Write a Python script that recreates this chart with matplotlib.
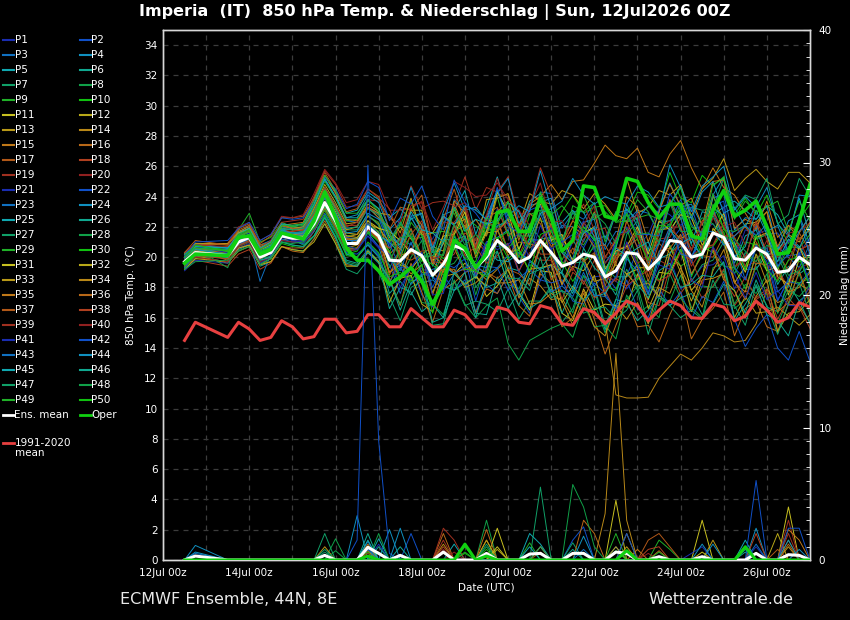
import matplotlib
matplotlib.use('Agg')
import matplotlib.pyplot as plt
from matplotlib.lines import Line2D
from matplotlib.ticker import MultipleLocator

plt.rcParams['font.family'] = ['DejaVu Sans']

# forecast steps in days after 12Jul2026 00Z
steps = [0.5, 0.75] + [1.5 + 0.25 * i for i in range(55)]

tick_days = list(range(0, 15))
tick_labels = ['12Jul 00z', '', '14Jul 00z', '', '16Jul 00z', '', '18Jul 00z', '',
               '20Jul 00z', '', '22Jul 00z', '', '24Jul 00z', '', '26Jul 00z']

ens_mean = [19.7, 20.3, 20.1, 21.0, 21.3, 20.0, 20.3, 21.4, 21.25, 21.25,
            22.2, 23.6, 22.4, 20.9, 20.9, 22.0, 21.4,
            19.8, 19.75, 20.5, 20.1, 18.8, 19.55, 20.75, 20.5,
            19.3, 20.0, 21.1, 20.5, 19.65, 20.0, 21.1, 20.3,
            19.4, 19.65, 20.2, 20.0, 18.7, 19.1, 20.3, 20.2,
            19.2, 19.9, 21.1, 21.0, 20.0, 20.2, 21.6, 21.3,
            19.9, 19.8, 20.6, 20.2, 19.0, 19.1, 20.0, 19.5]

oper = [19.6, 20.2, 20.1, 21.3, 21.4, 20.2, 20.5, 21.6, 21.4, 21.2,
        22.4, 24.3, 22.6, 20.6, 19.8, 19.8, 19.1,
        18.2, 18.7, 19.3, 18.4, 16.9, 18.2, 21.1, 20.6,
        19.3, 20.2, 22.95, 23.1, 21.7, 21.7, 23.9, 22.6,
        20.4, 21.1, 24.7, 24.6, 22.7, 22.5, 25.2, 25.0,
        23.6, 22.6, 23.5, 23.5, 21.4, 21.2, 23.1, 24.4,
        22.7, 23.1, 23.7, 22.0, 20.2, 20.3, 22.4, 24.8]

clim = [14.5, 15.7, 14.7, 15.7, 15.25, 14.5, 14.7, 15.8, 15.4, 14.6,
        14.75, 15.9, 15.9, 15.0, 15.1, 16.2, 16.2,
        15.4, 15.4, 16.6, 16.0, 15.4, 15.4, 16.5, 16.2,
        15.4, 15.4, 16.7, 16.5, 15.7, 15.6, 16.8, 16.6,
        15.6, 15.5, 16.6, 16.35, 15.6, 16.3, 17.1, 16.8,
        15.8, 16.5, 17.1, 16.8, 16.0, 15.95, 16.9, 16.7,
        15.8, 16.1, 17.1, 16.5, 15.7, 16.0, 17.0, 16.7]

P1 = [20.1,20.7,20.6, 21.5,21.8,20.5,20.9,22.0,21.9,22.0, 23.0,24.5,23.4,21.9,22.0,23.3,22.9, 20.6,22.6,22.8,21.0,21.2,22.6,22.1,21.1, 21.2,20.5,23.2,21.7,19.0,21.2,20.8,20.6, 18.1,19.7,18.4,18.7,18.8,18.4,17.9,18.8, 18.2,17.3,20.0,17.9,18.4,19.4,19.5,20.1, 17.9,19.4,19.2,20.2,17.2,18.4,20.2,17.9]
P2 = [20.3,20.9,20.6, 21.4,21.6,20.3,20.5,21.5,21.1,21.0, 22.0,23.1,21.9,20.3,20.2,20.8,20.1, 19.5,17.6,19.5,17.5,16.7,18.8,17.8,18.5, 16.4,18.2,17.6,18.8,17.4,16.3,18.5,19.5, 17.7,17.8,19.8,18.1,18.9,17.9,18.8,20.4, 19.1,21.1,21.0,21.9,19.6,21.8,22.2,21.2, 21.7,22.1,21.2,21.5,21.6,20.1,20.2,21.3]
P3 = [19.9,20.4,20.1, 20.8,21.0,19.7,20.1,21.3,21.5,21.7, 23.4,25.1,23.9,22.4,22.3,23.3,22.6, 20.6,21.3,20.8,22.2,19.4,20.9,23.8,23.1, 20.8,22.7,24.4,22.4,23.1,21.6,24.3,24.2, 21.9,22.9,22.5,23.6,21.2,23.0,22.3,23.1, 22.9,21.6,22.2,23.8,22.2,21.0,23.9,24.2, 20.9,20.0,22.1,20.3,20.7,20.0,19.3,20.9]
P4 = [19.5,20.1,20.2, 21.6,22.1,20.8,21.1,22.2,21.9,21.8, 22.7,24.1,22.8,21.2,20.9,21.6,20.7, 18.3,19.7,19.2,18.3,18.5,17.9,21.4,19.8, 18.6,21.0,21.3,21.8,19.6,21.2,21.1,22.2, 20.4,19.9,22.3,22.5,19.6,20.7,23.5,22.0, 20.5,23.1,24.9,23.3,23.5,22.1,24.1,25.3, 21.8,22.6,22.5,23.4,20.5,22.4,22.8,20.8]
P5 = [19.7,20.3,20.2, 21.2,21.5,20.3,20.7,22.0,22.0,22.2, 23.7,25.4,24.3,22.9,23.1,24.3,23.8, 22.6,23.2,22.5,22.9,20.6,22.8,23.1,24.4, 21.5,23.3,25.3,22.9,21.6,23.7,24.2,21.9, 22.3,23.1,22.0,21.1,21.4,20.6,23.2,22.4, 19.6,22.3,22.4,23.1,20.9,23.0,22.8,23.3, 23.7,23.1,22.5,23.4,22.8,21.5,23.9,21.4]
P6 = [19.4,20.0,19.7, 20.5,20.8,19.4,19.7,20.7,20.5,20.4, 21.2,22.6,21.3,19.8,19.6,20.5,19.7, 16.6,18.0,17.7,16.4,17.0,18.1,17.8,18.3, 18.7,18.0,18.3,19.3,19.1,18.1,20.8,18.7, 19.0,21.2,19.8,20.7,18.6,20.3,19.9,21.7, 20.3,19.6,21.6,23.0,20.8,20.2,22.8,20.8, 21.0,19.2,19.2,20.2,18.2,19.4,18.9,19.4]
P7 = [19.8,20.5,20.3, 21.6,21.9,20.5,20.7,21.6,21.2,20.8, 21.4,22.2,20.9,19.2,18.9,19.8,19.0, 17.4,15.8,18.0,18.4,15.5,15.6,18.4,16.8, 17.1,16.9,16.4,17.9,15.9,17.1,17.1,18.1, 15.7,16.6,18.8,18.1,15.5,17.2,19.2,17.8, 18.5,17.4,20.3,20.9,18.4,19.5,19.8,21.0, 18.9,20.3,19.5,20.3,20.1,18.5,19.0,20.3]
P8 = [19.3,20.0,20.0, 21.0,21.3,20.1,20.4,21.6,21.5,21.6, 22.9,24.4,23.2,21.6,21.5,22.4,21.6, 20.3,18.6,20.0,21.1,17.6,19.3,19.6,20.6, 17.5,19.8,20.4,18.2,17.9,19.5,19.2,17.6, 17.8,16.3,18.8,17.0,15.0,16.9,17.2,18.1, 15.6,17.3,17.1,18.8,16.7,16.0,19.3,19.6, 16.6,17.2,19.4,17.5,15.6,17.3,18.9,16.8]
P9 = [19.2,19.9,20.4, 21.8,22.9,21.0,21.3,22.3,22.0,21.9, 22.5,23.9,22.8,21.4,21.5,22.7,22.3, 20.3,22.2,21.2,21.3,21.6,21.7,21.5,22.6, 22.1,21.4,24.0,21.4,22.0,22.9,22.4,22.2, 19.8,21.3,20.8,22.0,18.8,20.1,21.9,19.8, 17.9,20.2,20.8,19.4,19.9,20.7,20.3,19.4, 19.3,17.9,20.2,19.1,16.3,18.5,18.3,18.6]
P10 = [20.0,20.6,19.9, 20.7,21.0,19.6,19.9,20.9,20.7,20.6, 21.4,22.8,21.6,20.2,20.4,21.6,21.1, 19.8,19.4,21.6,19.7,20.6,19.9,20.6,22.0, 20.2,22.3,22.0,22.5,20.4,22.8,23.1,21.6, 23.0,24.1,22.9,23.3,23.4,22.3,22.8,24.3, 24.1,23.2,25.6,23.9,23.6,25.4,24.7,25.3, 22.8,23.9,22.8,24.1,22.3,20.9,22.5,23.5]
P11 = [19.7,20.6,20.4, 21.4,21.7,20.5,20.8,21.9,21.8,21.8, 22.8,24.2,23.0,21.4,21.3,22.2,21.4, 19.0,19.5,19.2,20.1,17.6,19.6,18.9,19.6, 18.9,17.4,18.1,19.2,17.6,16.5,19.1,19.0, 16.3,15.8,17.9,16.5,16.9,16.8,16.7,18.9, 17.2,19.0,18.9,20.5,17.8,18.7,21.9,21.1, 18.3,19.4,20.9,19.1,19.4,17.5,19.9,20.0]
P12 = [19.6,20.1,19.6, 20.4,20.7,19.5,19.9,21.1,21.3,21.6, 23.2,24.8,23.6,22.2,22.3,23.5,23.0, 21.3,20.5,23.1,23.1,19.8,20.9,23.2,21.2, 18.8,20.8,22.5,20.3,20.5,19.0,20.6,21.2, 18.2,19.4,19.1,20.2,17.4,19.8,20.8,19.3, 19.3,21.8,21.9,21.2,21.7,20.5,24.1,22.4, 20.7,22.2,22.3,23.0,20.4,21.5,21.0,22.3]
P13 = [19.9,20.5,20.3, 21.2,21.5,20.1,20.4,21.4,21.2,21.1, 22.0,23.3,22.1,20.6,20.8,22.2,21.9, 21.0,22.0,21.2,20.2,20.7,20.4,23.7,22.9, 20.7,23.8,23.9,24.2,22.1,24.2,23.7,23.5, 24.4,24.1,23.2,24.2,23.5,22.5,25.2,22.9, 23.3,24.4,24.1,24.8,22.7,24.5,25.2,26.5, 24.4,25.2,25.8,25.0,24.5,25.6,25.6,24.9]
P14 = [20.2,20.9,20.8, 21.7,22.0,20.7,21.0,22.1,21.9,21.8, 23.2,24.6,23.3,21.6,21.5,22.4,21.6, 20.1,18.5,20.6,19.0,19.0,18.3,20.6,19.0, 19.2,18.5,19.2,19.9,17.3,18.6,18.1,17.2, 17.3,16.0,17.6,16.2,15.8,10.9,10.7,10.7, 10.75,12.0,12.8,13.6,13.2,14.0,15.0,14.8, 14.4,14.5,15.6,17.9,17.0,17.3,18.2,17.8]
P15 = [19.4,20.1,20.1, 20.8,21.1,19.9,20.3,21.5,21.5,21.6, 22.2,23.7,22.6,21.3,21.5,22.7,22.2, 20.2,20.9,23.2,22.1,19.5,21.5,23.5,21.9, 22.5,21.4,24.1,24.1,22.0,23.5,24.0,24.8, 23.8,25.0,25.1,26.2,27.4,26.7,26.5,27.2, 25.6,25.3,26.8,27.7,25.9,24.5,25.9,24.6, 24.1,22.9,21.8,23.7,21.3,22.1,21.6,22.7]
P16 = [19.8,20.0,19.7, 20.6,20.8,19.5,19.7,20.7,20.4,20.3, 21.2,22.4,21.1,19.5,19.4,20.3,19.7, 18.6,16.8,19.6,17.7,15.7,17.9,18.3,19.0, 16.3,17.9,17.6,18.8,16.8,16.1,18.9,18.3, 15.4,16.0,17.8,15.9,13.6,15.5,17.2,15.4, 15.5,14.4,16.2,17.7,14.6,15.9,16.6,17.7, 14.8,16.6,17.1,15.4,15.1,16.9,16.8,15.7]
P17 = [20.1,20.8,20.9, 21.9,22.2,20.9,21.4,22.6,22.6,22.7, 23.9,25.6,24.4,23.0,23.2,24.5,24.0, 21.8,23.3,23.1,24.1,20.8,22.5,24.5,22.2, 20.5,22.8,23.3,21.4,22.0,22.9,22.2,20.7, 21.3,20.2,22.3,21.4,18.4,20.6,20.6,21.2, 18.7,20.9,20.3,20.7,21.2,20.7,20.8,21.9, 21.3,19.9,22.4,20.1,20.4,21.1,20.5,20.8]
P18 = [19.5,19.8,19.4, 20.2,20.5,19.2,19.6,20.7,20.6,20.6, 21.7,23.1,21.9,20.5,20.6,21.7,21.2, 20.6,21.2,20.2,20.4,20.5,19.7,20.2,21.6, 21.1,20.3,22.6,20.4,20.1,21.7,20.2,20.2, 18.2,19.3,18.2,19.8,17.8,16.4,18.1,19.5, 17.0,16.8,19.3,17.6,18.6,17.3,18.1,19.2, 16.8,17.8,17.2,17.7,15.0,16.9,16.7,15.3]
P19 = [20.0,20.6,20.3, 21.1,21.4,20.2,20.6,21.8,21.7,21.8, 22.9,24.4,23.2,22.0,22.3,23.8,23.7, 22.5,22.3,24.7,23.2,23.6,23.7,23.4,25.3, 23.1,24.6,24.3,25.3,22.6,23.3,25.9,24.1, 21.2,22.4,23.5,21.8,21.9,19.8,22.4,22.8, 19.9,21.2,21.3,22.6,20.4,21.9,21.4,22.1, 21.3,19.4,19.7,21.1,19.2,18.0,20.5,20.8]
P20 = [20.3,20.9,20.9, 22.0,22.3,21.1,21.5,22.7,22.6,22.8, 24.2,25.8,24.9,23.6,23.8,25.0,24.8, 23.1,23.1,23.2,23.7,21.8,23.3,25.0,24.6, 24.0,24.1,24.9,23.8,23.1,22.1,23.9,22.0, 20.4,21.3,21.4,21.7,19.6,20.4,20.8,21.5, 19.9,20.0,22.0,22.0,20.1,20.6,22.6,21.5, 19.3,19.9,20.8,19.5,18.9,18.1,19.3,19.6]
P21 = [19.1,19.8,19.6, 20.6,20.9,19.6,20.0,21.1,21.0,21.1, 22.2,23.5,22.3,20.6,20.5,21.4,20.6, 20.2,19.3,18.5,19.3,18.7,18.2,21.1,19.0, 19.5,21.0,20.7,20.9,19.0,21.0,21.2,21.9, 19.4,21.0,22.4,20.4,18.8,21.2,22.0,20.7, 21.5,23.2,22.8,22.1,22.7,21.4,24.2,23.2, 19.9,21.8,21.5,21.8,19.3,21.1,20.2,20.2]
P22 = [20.2,20.8,20.6, 21.4,21.7,20.4,20.7,21.8,21.6,21.7, 22.7,24.1,22.9,21.3,21.2,22.2,21.5, 20.9,19.3,19.3,20.3,18.0,19.6,19.3,19.9, 17.1,19.4,19.3,17.8,18.6,19.2,18.5,18.3, 18.5,17.1,16.9,18.3,17.6,16.4,18.5,16.6, 16.0,17.9,16.8,17.7,15.9,17.4,17.0,18.4, 15.9,14.1,15.3,16.2,14.0,13.2,15.1,13.1]
P23 = [19.6,20.3,20.1, 21.0,21.3,18.4,20.2,21.2,21.0,20.9, 21.7,22.9,21.7,20.2,20.0,20.9,20.2, 18.0,19.3,18.2,18.9,18.7,17.8,18.9,20.6, 19.5,19.3,22.1,22.3,20.0,20.0,22.9,21.1, 22.1,22.0,21.0,22.9,20.5,21.7,21.6,23.0, 19.9,20.9,23.5,22.6,20.0,21.4,23.2,21.4, 20.8,18.5,20.6,20.6,17.7,18.4,18.2,19.1]
P24 = [19.9,20.1,20.0, 20.8,21.2,20.0,20.5,21.8,21.9,22.0, 23.4,25.1,24.0,22.6,22.8,24.1,23.6, 21.8,22.6,24.6,22.6,20.6,23.0,24.9,23.1, 23.3,22.4,24.2,25.2,22.2,23.4,23.6,23.9, 21.1,23.0,23.0,21.3,20.8,22.9,23.1,22.5, 23.4,22.9,26.1,24.6,23.0,24.7,25.3,26.0, 23.1,24.0,23.3,24.6,22.2,21.4,24.1,24.0]
P25 = [20.1,20.8,20.6, 21.6,21.9,20.6,20.8,21.8,21.6,21.5, 22.0,23.2,21.9,20.4,20.5,21.7,21.4, 21.0,20.2,22.6,21.5,18.6,21.2,21.1,21.4, 18.6,20.6,19.8,19.7,20.3,19.8,19.2,19.5, 18.9,17.6,19.6,17.4,17.6,18.7,18.7,19.5, 17.6,19.9,20.2,21.5,18.8,20.3,23.0,21.2, 19.6,21.4,21.8,20.1,20.5,21.4,20.7,19.6]
P26 = [19.5,20.5,20.4, 21.5,21.8,20.4,20.7,21.8,21.5,21.4, 22.2,23.4,22.0,20.2,20.0,20.8,20.0, 17.6,18.4,17.5,18.8,16.9,16.0,17.8,19.0, 16.3,16.2,18.7,16.6,17.7,16.6,17.1,17.9, 16.3,17.9,17.1,17.9,15.2,17.2,17.0,15.8, 16.5,17.5,16.8,17.3,17.6,16.2,16.9,18.2, 17.8,16.3,18.5,16.7,16.4,18.2,17.1,17.7]
P27 = [19.7,20.1,19.9, 20.7,21.0,19.8,20.3,21.5,21.6,21.7, 23.0,24.6,23.4,21.8,21.8,22.8,22.1, 19.3,20.5,21.8,20.0,20.4,19.3,22.2,22.7, 20.2,21.8,21.8,22.6,20.5,22.2,21.2,21.3, 21.1,19.6,19.7,21.3,19.4,18.6,21.5,22.4, 20.4,20.9,23.8,22.5,23.3,23.1,23.2,25.2, 23.2,24.1,23.8,25.2,22.2,22.8,25.2,24.0]
P28 = [19.3,20.6,19.3, 21.3,21.5,20.0,20.0,21.0,20.8,20.7, 21.4,22.7,21.4,19.7,19.5,20.3,19.7, 18.4,16.9,18.8,17.0,16.9,16.2,18.5,16.9, 16.0,16.8,17.3,14.3,13.2,14.5,14.9,15.3, 15.6,14.7,16.9,15.4,15.5,14.6,17.5,16.2, 16.8,16.0,18.9,17.3,16.4,18.1,18.0,19.1, 16.9,18.2,17.6,18.9,16.3,17.8,17.4,18.2]
P29 = [19.8,20.7,20.5, 21.4,21.7,20.5,20.9,22.0,22.0,22.1, 23.4,25.0,23.9,22.4,22.5,23.7,23.2, 21.0,22.1,23.7,21.5,19.8,22.3,22.9,21.2, 21.2,22.3,21.8,20.6,21.4,20.8,23.7,22.4, 20.7,23.4,23.0,23.6,21.0,23.0,22.3,22.6, 22.8,22.5,22.1,23.2,22.8,21.4,24.2,21.8, 21.7,22.1,21.2,21.5,19.2,20.7,20.6,21.5]
P30 = [19.4,20.5,19.9, 21.2,21.5,20.1,20.4,21.4,21.2,21.2, 22.0,23.4,22.2,20.6,20.6,21.7,21.0, 20.4,18.7,18.7,20.0,19.5,18.8,21.5,19.9, 19.7,22.2,21.2,21.7,20.0,21.3,20.5,21.4, 19.7,18.4,19.6,20.8,18.1,17.8,20.2,18.5, 19.5,18.5,19.1,20.5,18.7,20.4,20.7,21.7, 19.2,21.0,20.8,19.5,20.1,20.6,19.7,19.8]
P31 = [20.2,20.4,20.2, 21.0,21.3,20.0,20.4,21.5,21.4,21.4, 22.5,23.9,22.7,21.2,21.2,22.4,21.9, 21.7,21.1,20.3,22.0,19.7,21.4,21.5,23.0, 20.3,21.7,24.3,23.0,20.5,22.0,23.5,21.1, 21.5,19.7,21.6,22.0,19.2,20.4,20.7,22.0, 20.2,22.4,21.8,22.8,22.6,20.8,21.6,22.9, 20.5,19.0,21.3,21.6,18.7,18.2,20.7,19.0]
P32 = [19.2,19.9,19.7, 20.6,20.8,19.5,19.7,20.7,20.5,20.4, 21.0,22.2,20.9,19.4,19.4,20.4,19.7, 17.0,18.6,18.8,16.9,16.4,18.7,18.9,18.2, 18.7,18.1,21.2,19.1,17.6,19.2,19.3,19.5, 17.0,18.1,17.2,18.8,16.4,15.9,18.9,19.2, 16.6,18.2,20.7,19.0,17.1,18.8,20.5,18.5, 17.8,16.0,17.4,18.5,15.1,16.3,16.4,17.2]
P33 = [19.9,20.9,20.9, 21.6,21.9,20.6,21.0,22.1,21.9,22.0, 23.0,24.4,23.2,21.8,22.0,23.3,22.9, 22.8,21.6,23.9,21.5,21.6,22.7,22.2,22.5, 20.0,21.6,21.7,22.5,19.6,20.9,22.6,19.9, 18.2,19.9,19.9,18.4,18.6,19.5,18.9,18.1, 18.3,17.4,20.2,19.4,16.4,18.5,18.6,18.9, 16.0,17.4,16.3,16.4,16.7,16.1,15.5,16.2]
P34 = [19.7,20.3,20.1, 21.0,21.3,20.1,20.5,21.6,21.5,21.5, 22.7,24.1,22.8,21.2,21.1,22.0,21.2, 19.0,19.7,18.9,19.5,16.8,19.2,19.2,18.0, 18.3,19.0,18.3,18.3,18.5,16.9,17.0,17.6, 17.1,15.5,17.2,15.4,14.8,16.8,15.9,17.0, 15.6,18.0,17.6,19.3,17.8,16.7,19.1,20.5, 18.3,17.7,20.2,18.3,19.1,17.7,18.0,19.0]
P35 = [20.0,20.6,20.4, 21.3,21.7,20.5,20.9,22.1,22.2,22.3, 23.8,25.4,24.2,22.5,22.4,23.3,22.6, 22.0,20.1,20.4,21.8,19.7,19.0,21.7,22.1, 18.9,19.1,21.8,20.1,21.0,20.9,20.6,22.2, 20.7,22.0,21.5,23.0,20.0,21.1,24.0,23.3, 21.0,23.0,24.8,23.4,23.9,22.1,25.0,25.1, 21.9,22.5,22.1,23.0,20.7,22.1,21.2,21.8]
P36 = [19.5,20.5,19.8, 21.2,21.5,20.1,20.4,21.4,21.2,21.2, 21.9,23.2,22.0,20.5,20.6,21.8,21.4, 18.8,20.5,21.9,20.0,20.1,19.5,21.7,23.3, 20.4,22.6,23.0,23.7,21.1,23.2,23.8,21.4, 20.9,22.4,21.7,20.7,20.8,19.5,22.4,20.6, 18.4,20.4,20.6,21.5,18.9,20.1,20.0,21.4, 18.4,17.2,19.6,19.5,16.4,17.0,19.1,17.0]
P37 = [20.3,21.1,20.8, 21.8,22.1,20.8,21.0,22.1,21.9,21.9, 22.8,24.1,22.8,21.2,21.0,21.9,21.1, 18.3,20.1,19.8,20.2,17.5,19.7,19.0,19.2, 19.3,19.0,18.6,19.2,18.9,18.2,21.1,18.5, 19.4,20.6,19.7,20.3,18.1,20.1,20.4,21.8, 19.4,21.5,23.8,21.9,20.5,22.4,23.1,21.4, 21.4,22.0,21.0,19.9,20.3,19.1,21.6,20.4]
P38 = [19.4,20.1,19.9, 20.8,21.1,19.9,20.3,21.6,21.7,21.8, 23.0,24.6,23.4,22.1,22.1,23.3,22.8, 21.6,20.1,21.5,22.4,19.7,19.6,22.1,20.1, 20.7,19.6,20.1,20.9,19.1,20.3,19.8,19.8, 17.2,19.0,18.4,17.3,17.8,18.6,18.1,18.7, 19.1,18.4,18.8,20.3,19.8,18.2,20.7,18.6, 17.4,18.7,17.3,17.9,15.9,17.3,16.5,17.8]
P39 = [19.8,20.8,20.7, 21.5,21.8,20.6,21.1,22.3,22.4,22.5, 24.0,25.7,24.8,23.3,23.4,24.5,23.9, 23.2,21.2,23.4,23.6,20.8,22.3,22.3,23.3, 20.7,22.5,21.8,22.3,22.2,20.6,21.2,22.1, 20.3,19.1,21.2,21.8,18.8,18.4,21.0,19.6, 20.0,19.8,19.4,21.4,19.4,20.5,20.8,22.3, 19.4,19.9,22.3,21.2,18.5,19.8,21.3,19.4]
P40 = [19.6,20.0,19.7, 20.7,21.0,19.7,20.0,21.1,21.0,21.0, 21.8,23.1,21.9,20.4,20.5,21.8,21.5, 19.7,21.1,20.5,22.0,19.9,20.1,23.3,23.6, 21.1,22.8,25.2,23.0,21.4,23.3,24.9,22.3, 22.4,20.9,22.1,23.4,19.9,21.3,21.7,22.9, 19.7,21.9,22.4,20.8,20.5,22.3,22.8,22.0, 22.3,20.8,23.7,21.8,20.0,21.6,21.7,22.3]
P41 = [20.1,20.7,20.3, 21.2,21.5,20.1,20.4,21.3,21.1,21.0, 21.9,23.5,22.4,20.8,20.5,21.4,20.7, 20.0,18.0,19.3,20.3,17.5,17.6,20.7,21.2, 18.8,21.0,20.5,20.8,21.6,19.9,22.1,20.5, 21.1,19.6,21.8,20.9,17.9,18.7,21.0,19.5, 17.7,19.5,19.2,21.1,18.5,18.0,20.7,19.5, 18.9,17.3,19.0,17.2,17.8,16.8,16.8,18.1]
P42 = [19.9,21.0,21.1, 21.9,22.3,21.1,21.5,22.6,22.5,22.6, 23.7,25.3,24.5,23.2,23.5,25.0,24.6, 22.4,23.9,23.5,24.7,22.7,21.8,25.1,23.6, 22.9,21.9,24.6,22.1,21.6,23.1,23.4,20.9, 21.0,21.5,20.6,22.0,18.8,21.0,23.0,21.5, 21.5,21.4,24.2,23.1,23.3,21.2,23.4,23.7, 19.3,18.5,20.8,19.7,17.1,18.6,20.3,18.2]
P43 = [19.3,20.2,20.0, 20.9,21.2,20.0,20.4,21.5,21.4,21.5, 22.5,23.9,22.7,21.1,21.1,22.1,21.4, 20.0,19.1,21.0,18.8,19.2,19.4,18.9,19.3, 19.5,18.8,19.3,20.1,17.6,19.7,19.2,17.7, 18.1,17.4,19.0,17.5,17.4,16.6,19.9,19.1, 17.5,20.3,22.0,20.2,20.0,21.7,21.7,20.8, 21.4,22.1,21.4,22.2,19.4,20.2,22.7,20.1]
P44 = [20.0,20.5,20.2, 21.1,21.4,20.2,20.6,21.7,21.6,21.6, 22.7,24.1,22.9,21.6,21.7,22.9,22.5, 21.9,20.6,22.7,22.9,20.3,22.7,22.1,23.4, 23.1,22.5,24.4,22.7,23.4,23.0,25.7,23.2, 23.7,25.2,24.1,23.5,24.0,23.7,23.5,24.7, 24.3,23.3,23.5,24.7,22.5,24.3,25.0,22.9, 23.3,22.0,23.5,21.7,22.1,20.3,21.7,22.7]
P45 = [19.7,20.7,20.6, 21.5,21.9,20.6,21.0,22.2,22.1,22.2, 23.5,25.2,24.0,22.6,22.6,23.8,23.2, 21.4,20.8,23.0,21.8,21.6,21.0,23.3,21.7, 22.5,22.2,22.4,23.6,23.0,21.3,22.9,23.2, 20.3,19.6,21.6,21.9,19.0,20.6,20.1,20.6, 21.0,19.5,21.8,20.9,21.3,19.9,23.3,22.7, 20.0,20.7,23.1,21.5,19.7,21.2,20.6,22.1]
P46 = [19.5,20.3,20.0, 21.0,21.3,19.8,20.0,21.0,20.8,20.7, 21.4,22.6,21.3,19.6,19.4,20.3,19.6, 18.6,16.5,18.3,18.8,15.7,16.0,19.0,18.2, 16.0,18.5,20.4,18.2,16.8,18.9,19.2,20.2, 19.0,17.9,20.6,19.3,18.6,17.5,20.2,18.2, 17.3,19.1,19.6,18.0,18.2,18.8,18.7,19.7, 15.8,16.9,18.1,16.2,15.8,14.8,17.1,15.6]
P47 = [20.2,20.6,20.5, 21.2,21.5,20.3,20.7,21.9,21.8,21.9, 23.0,24.4,23.2,21.9,22.0,23.2,22.8, 21.1,22.3,21.3,20.0,20.1,21.1,20.5,21.3, 18.0,19.0,21.3,18.6,18.6,17.8,20.0,17.3, 17.8,17.3,16.3,16.6,16.7,15.9,16.5,17.8, 14.9,17.3,16.8,16.0,16.5,15.9,18.5,16.9, 16.8,15.5,18.2,16.8,14.9,16.9,18.3,16.2]
P48 = [19.2,19.7,19.8, 20.4,20.7,19.5,19.9,21.0,20.9,21.0, 22.0,23.4,22.3,20.9,21.0,22.1,21.7, 19.7,21.3,21.4,19.4,20.4,20.1,22.2,20.8, 21.5,20.7,22.3,23.2,21.7,20.6,23.1,23.0, 21.1,23.0,21.6,22.9,22.2,20.9,22.8,21.5, 21.6,21.0,23.6,21.7,21.7,22.6,22.2,21.3, 21.2,20.4,19.7,20.8,20.4,18.8,19.1,20.2]
P49 = [19.8,20.6,20.4, 21.3,21.7,20.5,20.9,22.1,22.1,22.2, 23.7,25.4,24.4,22.9,22.9,23.8,23.0, 21.7,19.8,22.3,21.4,18.7,20.3,23.2,21.9, 20.3,22.6,22.2,23.7,21.4,21.4,24.3,22.8, 23.4,22.5,24.1,22.5,23.0,22.3,22.4,23.8, 23.0,21.6,23.4,24.6,22.0,21.6,24.8,25.2, 22.5,23.7,23.0,23.3,23.7,21.7,23.7,22.4]
P50 = [20.0,20.8,20.4, 21.5,21.8,20.4,20.6,21.6,21.3,21.2, 21.9,23.1,21.8,20.1,20.0,21.0,20.3, 18.7,19.0,18.4,19.5,16.3,18.7,20.8,19.2, 19.1,18.7,21.3,19.9,20.5,19.1,21.5,21.8, 19.6,19.6,22.0,21.2,18.7,20.8,22.9,21.2, 19.8,22.1,22.0,23.5,21.7,20.1,23.5,21.9, 20.8,19.2,21.5,19.2,18.4,19.8,20.0,18.0]

members = [P1, P2, P3, P4, P5, P6, P7, P8, P9, P10,
           P11, P12, P13, P14, P15, P16, P17, P18, P19, P20,
           P21, P22, P23, P24, P25, P26, P27, P28, P29, P30,
           P31, P32, P33, P34, P35, P36, P37, P38, P39, P40,
           P41, P42, P43, P44, P45, P46, P47, P48, P49, P50]

# 6-hourly precipitation (mm), only non-zero steps listed
member_rain = {
    1: {0.75: 0.3, 4.75: 0.8}, 2: {5.75: 2.0, 9.5: 1.5, 9.75: 2.5, 10.5: 1.0},
    3: {0.75: 0.5, 4.75: 1.4}, 4: {0.75: 1.1, 4.5: 3.35, 5.25: 2.3, 13.75: 2.4},
    5: {5.0: 1.6, 6.75: 1.2, 13.5: 1.5}, 6: {4.75: 2.0, 5.5: 1.0},
    7: {3.75: 2.0, 8.75: 5.5, 9.5: 1.3}, 8: {4.0: 1.6, 5.0: 2.0, 7.5: 3.0},
    9: {11.5: 1.5, 11.75: 0.8}, 10: {4.75: 0.6, 7.0: 0.5},
    11: {7.75: 2.4, 10.5: 4.5, 12.5: 3.0, 14.5: 4.0}, 12: {7.5: 1.5, 14.25: 2.0},
    13: {3.75: 1.0, 7.5: 1.5, 8.75: 1.0, 10.75: 2.0, 12.75: 1.5},
    14: {10.25: 3.5, 10.5: 15.6, 10.75: 3.0}, 15: {4.75: 1.0, 11.0: 0.8},
    16: {6.5: 2.0, 7.5: 2.3, 9.75: 3.0, 10.0: 2.0}, 17: {11.25: 1.5, 11.5: 2.0, 11.75: 1.0},
    18: {4.75: 0.5, 6.5: 1.0}, 19: {6.5: 2.4, 6.75: 1.5, 14.5: 3.0},
    20: {6.5: 0.8, 11.25: 0.5}, 21: {5.0: 1.2, 13.75: 1.0},
    22: {4.5: 1.5, 4.75: 29.8, 5.0: 9.0, 5.25: 0.5}, 23: {4.75: 1.0, 9.75: 0.8},
    24: {0.75: 0.6, 5.5: 2.4, 9.75: 1.8, 12.75: 1.2}, 25: {8.5: 2.0, 8.75: 1.2},
    26: {5.0: 1.0, 13.5: 0.6}, 27: {3.75: 0.8, 7.5: 1.2},
    28: {9.5: 5.7, 9.75: 4.0, 10.0: 1.0}, 29: {7.0: 1.0, 8.5: 1.3, 10.5: 2.0},
    30: {5.0: 0.6, 10.75: 0.6}, 31: {7.75: 1.0, 12.5: 0.6}, 32: {7.75: 0.8, 10.5: 1.0},
    33: {10.75: 1.0, 14.5: 1.0}, 34: {4.75: 0.7, 6.5: 1.2},
    35: {4.75: 1.2, 8.75: 1.0, 14.5: 2.3, 14.75: 1.5}, 36: {11.5: 0.7, 14.5: 1.2},
    37: {8.75: 0.6, 14.25: 0.8}, 38: {11.25: 0.8, 11.5: 1.0, 13.75: 2.0},
    39: {6.5: 1.5, 14.5: 2.0}, 40: {6.75: 0.6, 14.5: 1.5}, 41: {12.25: 0.5, 12.5: 1.0},
    42: {10.75: 2.0, 13.75: 6.0, 14.5: 2.4, 14.75: 2.4}, 43: {4.75: 0.8, 13.75: 1.2},
    44: {12.5: 1.2, 14.75: 0.8}, 45: {4.75: 1.5, 8.5: 1.0, 14.5: 1.5},
    46: {9.5: 0.8, 13.5: 0.8}, 47: {3.75: 0.6, 8.75: 1.0}, 48: {4.0: 0.7, 7.5: 1.0},
    49: {7.0: 0.6, 11.5: 0.6}, 50: {7.5: 0.8, 10.5: 0.7},
}
mean_rain = {0.75: 0.3, 3.75: 0.35, 4.75: 0.96, 5.0: 0.5, 5.5: 0.35, 6.5: 0.6, 7.5: 0.5,
             8.5: 0.45, 8.75: 0.5, 9.5: 0.5, 9.75: 0.5, 10.5: 0.6, 10.75: 0.5,
             11.5: 0.25, 12.5: 0.25, 13.75: 0.5, 14.5: 0.4, 14.75: 0.35}
oper_rain = {4.75: 0.3, 7.0: 1.2, 7.5: 0.3, 10.75: 0.7, 13.5: 1.0}

member_colors = ['#1a2db0', '#1050c8', '#1070c0', '#1090c0', '#10a8b0',
                 '#10a890', '#10a068', '#10a048', '#20b028', '#10c010',
                 '#c8c020', '#b8a818', '#b89818', '#b88818', '#c07818',
                 '#b86818', '#b05818', '#b04020', '#a03020', '#902020']

for m in members:
    assert len(m) == len(steps)

W, H = 850, 620
fig = plt.figure(figsize=(8.5, 6.2), dpi=100, facecolor='black')
ax = fig.add_axes([163 / W, 1 - 560 / H, (810 - 163) / W, (560 - 30) / H])
ax.set_facecolor('black')
ax2 = ax.twinx()

for k, m in enumerate(members):
    ax.plot(steps, m, color=member_colors[k % 20], lw=0.7, zorder=2)
ax.plot(steps, clim, color='#e84040', lw=2.2, zorder=4)
ax.plot(steps, ens_mean, color='white', lw=2.2, zorder=5)
ax.plot(steps, oper, color='#10d010', lw=2.6, zorder=6)

for k in range(50):
    r = member_rain.get(k + 1, {})
    ax2.plot(steps, [r.get(s, 0.0) for s in steps], color=member_colors[k % 20], lw=0.7, zorder=2)
ax2.plot(steps, [mean_rain.get(s, 0.0) for s in steps], color='white', lw=2.2, zorder=5)
ax2.plot(steps, [oper_rain.get(s, 0.0) for s in steps], color='#10d010', lw=2.2, zorder=6)

ax.set_xlim(0, 15)
ax.set_ylim(0, 35)
ax2.set_ylim(0, 40)
ax.set_xticks(tick_days)
ax.set_xticklabels(tick_labels)
ax.set_yticks(list(range(0, 35, 2)))
ax.grid(True, color='#3c3c3c', linestyle=(0, (4, 4)), linewidth=0.9)
ax.set_axisbelow(True)
ax.tick_params(axis='both', colors='white', labelsize=7.5, length=0, pad=4)
ax.tick_params(axis='x', pad=6)

ax2.set_yticks([0, 10, 20, 30, 40])
ax2.yaxis.set_minor_locator(MultipleLocator(1))
ax2.tick_params(axis='y', which='major', direction='in', length=5, colors='white', labelsize=7.5, pad=6)
ax2.tick_params(axis='y', which='minor', direction='in', length=3, color='white')

for a in (ax, ax2):
    for sp in a.spines.values():
        sp.set_color('#d8d8d8')
        sp.set_linewidth(1.0)

ax.set_ylabel('850 hPa Temp. (°C)', color='white', fontsize=7.5, labelpad=6)
ax2.set_ylabel('Niederschlag (mm)', color='white', fontsize=7.5, labelpad=6)
ax.set_xlabel('Date (UTC)', color='white', fontsize=7.5, labelpad=3)

fig.text(435 / W, 1 - 12 / H, 'Imperia  (IT)  850 hPa Temp. & Niederschlag | Sun, 12Jul2026 00Z',
         ha='center', va='center', color='white', fontsize=11.5, fontweight='bold')
fig.text(120 / W, 1 - 599 / H, 'ECMWF Ensemble, 44N, 8E', ha='left', va='center',
         color='#e8e8e8', fontsize=11.5)
fig.text(793 / W, 1 - 599 / H, 'Wetterzentrale.de', ha='right', va='center',
         color='#e8e8e8', fontsize=11.5)

# legend (row-major, two columns)
def leg_item(x, y, color, label, lw=1.5):
    fig.add_artist(Line2D([x / W, (x + 11) / W], [1 - y / H, 1 - y / H],
                          transform=fig.transFigure, color=color, lw=lw))
    fig.text((x + 11.5) / W, 1 - y / H, label, ha='left', va='center',
             color='white', fontsize=7.5)

for k in range(50):
    row, col = divmod(k, 2)
    leg_item(3 + col * 77, 40.3 + 15 * row, member_colors[k % 20], 'P%d' % (k + 1))
leg_item(3, 415.3, 'white', 'Ens. mean', lw=2)
leg_item(80, 415.3, '#10d010', 'Oper', lw=2)
leg_item(3, 442.7, '#e84040', '1991-2020', lw=2)
fig.text(14.5 / W, 1 - 453.5 / H, 'mean', ha='left', va='center', color='white', fontsize=7.5)

fig.savefig('out.png', dpi=100, facecolor='black')
